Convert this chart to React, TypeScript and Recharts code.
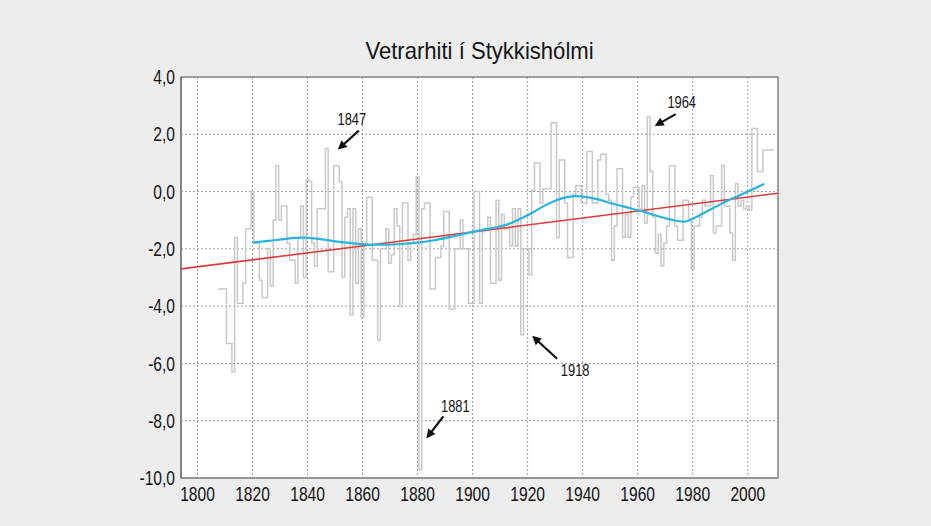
import React from "react"
import {
  LineChart, Line, XAxis, YAxis, CartesianGrid, ReferenceArea, ReferenceDot,
} from "recharts"

// Vetrarhiti (winter mean, °C) í Stykkishólmi, one value per year from 1808
const FIRST_YEAR = 1808
const winterMeans = [
  -3.4, -3.4, -3.4, -5.3, -5.3, -6.3, -1.6, -3.9, -3.9, -3.2, -1.3, -1.3, // 1808-1819
  0.0, -1.8, -1.8, -3.1, -3.7, -3.7, -2.0, -3.3, -1.0, 0.9,               // 1820-1829
  -1.0, -0.5, -0.5, -1.8, -2.4, -2.4, -3.2, -1.6, -0.5, -3.0,             // 1830-1839
  0.4, 0.35, -1.8, -2.6, -0.6, -0.6, -0.6, 1.5, -2.8, -2.8,               // 1840-1849
  0.9, 0.9, 0.35, -3.0, -0.9, -0.6, -4.3, -0.6, -3.2, -1.3,               // 1850-1859
  -4.4, -1.8, -0.2, -0.2, -2.4, -2.4, -5.2, -2.0, -2.0, -1.3,             // 1860-1869
  -2.5, -2.2, -0.6, -1.2, -4.0, -0.4, -0.4, -2.4, -1.8, -1.5,             // 1870-1879
  0.5, -9.7, -0.6, -0.4, -0.4, -3.4, -3.4, -2.3, -2.3, -1.9,              // 1880-1889
  -0.7, -0.7, -4.1, -4.1, -2.0, -2.0, -1.0, -2.0, -2.0, -3.9,             // 1890-1899
  -3.9, 0.0, 0.0, -3.9, -1.4, -1.3, -0.9, -3.2, -3.2, -0.3,               // 1900-1909
  -3.1, -0.8, -1.3, -1.3, -1.9, -0.6, -1.9, -0.6, -5.0, -2.0,             // 1910-1919
  -2.0, -2.9, 0.05, 1.0, 1.0, -0.4, 0.1, 0.1, 0.1, 2.4,                   // 1920-1929
  2.4, -1.6, 1.1, 1.1, -0.4, -2.3, -2.3, -0.1, 0.2, 0.2,                  // 1930-1939
  -0.4, -0.4, 1.4, 1.4, -0.4, -0.4, 1.1, 1.3, 1.3, -0.1,                  // 1940-1949
  -0.3, -2.4, -1.2, 0.8, 0.8, -1.6, -0.8, -1.6, -0.2, 0.15,               // 1950-1959
  0.15, -0.6, 0.2, -1.1, 2.6, 0.7, -0.9, -2.15, -1.5, -2.6,               // 1960-1969
  -1.8, -1.2, 0.9, 0.9, -1.2, -1.7, -1.7, -0.3, -0.3, -0.95,              // 1970-1979
  -2.7, -1.2, -1.2, -0.9, -0.3, -0.5, -0.5, 0.55, -1.45, -1.2,            // 1980-1989
  -1.2, 0.9, -0.5, -0.5, -1.45, -2.4, 0.27, -0.5, -0.3, -0.6,             // 1990-1999
  -0.5, -0.65, 2.2, 2.2, 0.7, 0.7, 1.45, 1.45, 1.45, 1.45,                // 2000-2009
]

// smoothed curve (cyan)
const smoothYears = [
  1820, 1826, 1832, 1838, 1844, 1850, 1856, 1862, 1868, 1874, 1880, 1886, 1892, 1898,
  1904, 1910, 1914, 1918, 1922, 1926, 1930, 1934, 1938, 1942, 1946, 1950, 1954, 1958,
  1962, 1966, 1970, 1974, 1977, 1980, 1984, 1988, 1992, 1996, 2000, 2004, 2006,
]
const smoothValues = [
  -1.78, -1.72, -1.65, -1.61, -1.65, -1.74, -1.80, -1.85, -1.85, -1.83, -1.78, -1.70, -1.58, -1.45,
  -1.33, -1.22, -1.10, -0.92, -0.72, -0.50, -0.32, -0.20, -0.16, -0.20, -0.28, -0.40, -0.50, -0.60,
  -0.70, -0.82, -0.93, -1.02, -1.05, -0.95, -0.75, -0.55, -0.35, -0.18, 0.00, 0.18, 0.27,
]

// linear trend (red)
const trendYears = [1794, 2011]
const trendValues = [-2.7, -0.06]

const yearTicks = [1800, 1820, 1840, 1860, 1880, 1900, 1920, 1940, 1960, 1980, 2000]
const tempTicks = [-10, -8, -6, -4, -2, 0, 2, 4]
const highlightYears = [1847, 1881, 1918, 1964]

const X_DOMAIN: [number, number] = [1794, 2011]
const Y_DOMAIN: [number, number] = [-10, 4]

// no condensed font installed, so squeeze Liberation Sans horizontally
const FONT = "'Liberation Sans', Arimo, Arial, sans-serif"
const SQUEEZE = 0.78

// where each label and arrow sits relative to the marked year (px)
const NOTE_OFFSETS: Record<number, { text: [number, number]; tail: [number, number]; tip: [number, number] }> = {
  1847: { text: [25, -30], tail: [32, -18], tip: [11, 1] },
  1881: { text: [35, -63], tail: [23, -53], tip: [6, -31] },
  1918: { text: [53, 35], tail: [35, 24], tip: [10, 1] },
  1964: { text: [33, -15], tail: [27, -3], tip: [6, 9] },
}

// centred steps: each winter covers year-0.5 .. year+0.5
const stepData = [
  ...winterMeans.map((v, i) => ({ year: FIRST_YEAR + i - 0.5, value: v })),
  { year: FIRST_YEAR + winterMeans.length - 0.5, value: winterMeans[winterMeans.length - 1] },
]
const smoothData = smoothYears.map((y, i) => ({ year: y, value: smoothValues[i] }))
const trendData = trendYears.map((y, i) => ({ year: y, value: trendValues[i] }))

const fmt = (v: number) => v.toFixed(1).replace(".", ",")

function NarrowText({ x, y, anchor, dy, size, children }: any) {
  return (
    <text transform={`translate(${x},${y}) scale(${SQUEEZE},1)`} textAnchor={anchor} dy={dy}
      fontFamily={FONT} fontSize={size} fill="#141414">
      {children}
    </text>
  )
}

const YTick = ({ x, y, payload }: any) => (
  <NarrowText x={x} y={y} anchor="end" dy="0.36em" size={20}>{fmt(payload.value)}</NarrowText>
)
const XTick = ({ x, y, payload }: any) => (
  <NarrowText x={x} y={y} anchor="middle" dy="0.71em" size={20}>{String(payload.value)}</NarrowText>
)

function Note({ cx, cy, year }: { cx?: number; cy?: number; year: number }) {
  if (cx == null || cy == null) return null
  const o = NOTE_OFFSETS[year]
  const x1 = cx + o.tail[0], y1 = cy + o.tail[1]
  const x2 = cx + o.tip[0], y2 = cy + o.tip[1]
  const len = Math.hypot(x2 - x1, y2 - y1)
  const ux = (x2 - x1) / len, uy = (y2 - y1) / len
  const hl = 9, hw = 4.5
  const bx = x2 - ux * hl, by = y2 - uy * hl
  const head = `${x2},${y2} ${bx - uy * hw},${by + ux * hw} ${bx + uy * hw},${by - ux * hw}`
  return (
    <g>
      <line x1={x1} y1={y1} x2={bx + ux} y2={by + uy} stroke="#111" strokeWidth={2.2} />
      <polygon points={head} fill="#111" />
      <NarrowText x={cx + o.text[0]} y={cy + o.text[1]} anchor="middle" dy="0.36em" size={16.5}>
        {String(year)}
      </NarrowText>
    </g>
  )
}

export default function App() {
  return (
    <div style={{ position: "absolute", left: 0, top: 0, width: 931, height: 526, background: "#ededed" }}>
      <div style={{
        position: "absolute", left: 181, top: 39, width: 597, textAlign: "center",
        fontFamily: FONT, fontSize: 24, lineHeight: "24px", color: "#141414",
        transform: "scaleX(0.92)", transformOrigin: "center",
      }}>
        Vetrarhiti í Stykkishólmi
      </div>
      <LineChart width={931} height={526} margin={{ top: 77, right: 153, bottom: 0, left: 0 }}>
        <CartesianGrid fill="#ffffff" stroke="#9a9a9a" strokeDasharray="2 2" />
        <XAxis
          type="number"
          dataKey="year"
          domain={X_DOMAIN}
          ticks={yearTicks}
          allowDataOverflow
          height={48}
          tickLine={false}
          tickSize={6}
          tickMargin={3}
          axisLine={{ stroke: "#8a8a8a" }}
          tick={XTick}
        />
        <YAxis
          type="number"
          dataKey="value"
          domain={Y_DOMAIN}
          ticks={tempTicks}
          allowDataOverflow
          width={181}
          tickLine={false}
          tickSize={6}
          tickMargin={0}
          axisLine={{ stroke: "#666666" }}
          tick={YTick}
        />
        <ReferenceArea x1={X_DOMAIN[0]} x2={X_DOMAIN[1]} y1={Y_DOMAIN[0]} y2={Y_DOMAIN[1]}
          fill="none" stroke="#8a8a8a" strokeWidth={1.5} />
        <Line data={stepData} dataKey="value" type="stepAfter" stroke="#c9c9c9" strokeWidth={1.5}
          dot={false} isAnimationActive={false} />
        <Line data={trendData} dataKey="value" type="linear" stroke="#e23b3b" strokeWidth={1.6}
          dot={false} isAnimationActive={false} />
        <Line data={smoothData} dataKey="value" type="monotone" stroke="#27b5dc" strokeWidth={2.2}
          dot={false} isAnimationActive={false} />
        {highlightYears.map((yr) => (
          <ReferenceDot
            key={yr}
            x={yr}
            y={winterMeans[yr - FIRST_YEAR]}
            r={0}
            shape={(p: any) => <Note cx={p.cx} cy={p.cy} year={yr} />}
          />
        ))}
      </LineChart>
    </div>
  )
}
